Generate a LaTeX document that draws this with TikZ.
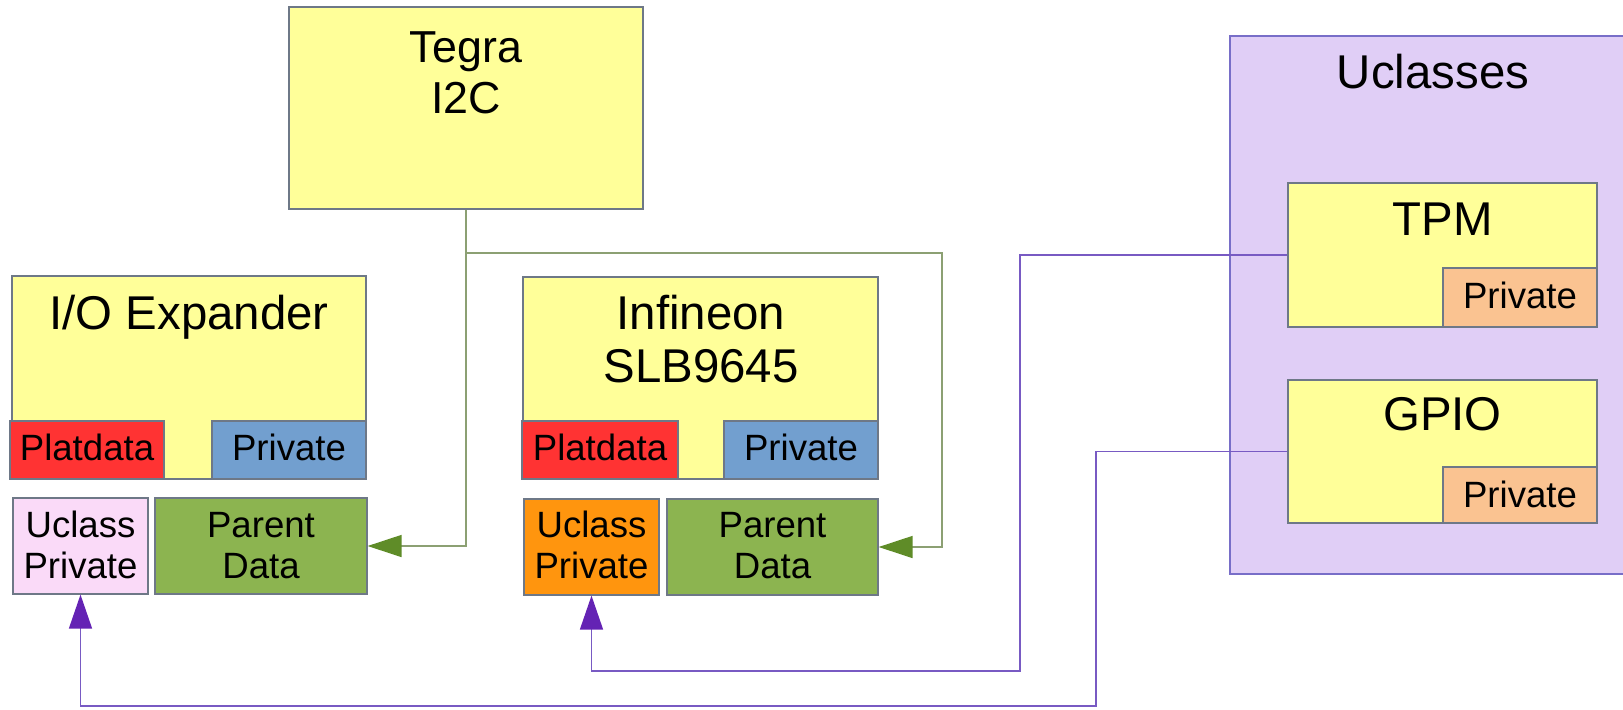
\documentclass[tikz,border=0pt]{standalone}
\usepackage{fontspec}
\setmainfont{Liberation Sans}
\usetikzlibrary{fit,arrows.meta}
\definecolor{yel}{RGB}{255,255,153}
\definecolor{bord}{RGB}{110,120,135}
\definecolor{pred}{RGB}{255,51,51}
\definecolor{pblue}{RGB}{114,159,207}
\definecolor{ppink}{RGB}{250,218,248}
\definecolor{pgreen}{RGB}{140,180,80}
\definecolor{porange}{RGB}{255,149,14}
\definecolor{plorange}{RGB}{250,195,145}
\definecolor{plav}{RGB}{224,206,246}
\definecolor{lavbord}{RGB}{120,110,200}
\definecolor{gconn}{RGB}{95,140,40}
\definecolor{glinec}{RGB}{140,160,115}
\definecolor{pconn}{RGB}{100,35,180}
\definecolor{plinec}{RGB}{120,90,195}
\begin{document}
\begin{tikzpicture}[x=0.5pt,y=-0.5pt,
  box/.style={draw=bord, line width=0.6pt, inner sep=0pt, fill=#1},
  big/.style={anchor=base, inner sep=0pt, font=\fontsize{23.7}{26}\selectfont},
  mid/.style={anchor=base, inner sep=0pt, font=\fontsize{22.4}{25}\selectfont},
  small/.style={anchor=base, inner sep=0pt, font=\fontsize{18.3}{20}\selectfont},
  gline/.style={draw=glinec, line width=0.7pt, -{Triangle[length=17pt,width=11pt,color=gconn]}},
  pline/.style={draw=plinec, line width=0.7pt, -{Triangle[length=17pt,width=11.5pt,color=pconn]}}]
\useasboundingbox (0,0) rectangle (1623,709);
\clip (0,0) rectangle (1623,709);
\fill[white] (0,0) rectangle (1623,709);

% Uclasses
\node[box=plav, draw=lavbord, fit={(1230,36)(1645,574)}] (ucl) {};
\node[box=yel, fit={(1288,183)(1597,327)}] (tpm) {};
\node[box=plorange, fit={(1443,268)(1597,327)}] (tpmpriv) {};
\node[box=yel, fit={(1288,380)(1597,523)}] (gpio) {};
\node[box=plorange, fit={(1443,467)(1597,523)}] (gpiopriv) {};

% Tegra
\node[box=yel, fit={(289,7)(643,209)}] (tegra) {};

% I/O Expander
\node[box=yel, fit={(12,276)(366,479)}] (io) {};
\node[box=pred, fit={(10,421)(164,479)}] (iopl) {};
\node[box=pblue, fit={(212,421)(366,479)}] (iopr) {};
\node[box=ppink, fit={(13,498)(148,594)}] (iouc) {};
\node[box=pgreen, fit={(155,498)(367,594)}] (iopd) {};

% Infineon
\node[box=yel, fit={(523,277)(878,479)}] (inf) {};
\node[box=pred, fit={(522,421)(678,479)}] (infpl) {};
\node[box=pblue, fit={(724,421)(878,479)}] (infpr) {};
\node[box=porange, fit={(524,499)(659,595)}] (infuc) {};
\node[box=pgreen, fit={(667,499)(878,595)}] (infpd) {};

% connectors
\coordinate (gj) at (467,253);
\coordinate (gr) at (942,253);
\draw[gline] (tegra.south) |- (iopd.east);
\draw[gline] (gj) -- (gr) |- (infpd.east);
\coordinate (tpmturn) at (1020,671);
\coordinate (gpioturn) at (1096,706);
\draw[pline] (tpm.west) -| (tpmturn) -| (infuc.south);
\draw[pline] (gpio.west) -| (gpioturn) -| (iouc.south);

% texts
\node[mid] (t1) at (466,62) {Tegra};
\node[mid] (t2) at (466,113) {I2C};
\node[big] (t3) at (189,329) {I/O Expander};
\node[small] (t4) at (87,460) {Platdata};
\node[small] (t5) at (289,460) {Private};
\node[small] (t6) at (80.5,537) {Uclass};
\node[small] (t7) at (80.5,578) {Private};
\node[small] (t8) at (261,537) {Parent};
\node[small] (t9) at (261,578) {Data};
\node[big] (t10) at (701,329) {Infineon};
\node[big] (t11) at (701,382) {SLB9645};
\node[small] (t12) at (600,460) {Platdata};
\node[small] (t13) at (801,460) {Private};
\node[small] (t14) at (591.5,537) {Uclass};
\node[small] (t15) at (591.5,578) {Private};
\node[small] (t16) at (772.5,537) {Parent};
\node[small] (t17) at (772.5,578) {Data};
\node[big] (t18) at (1433,88) {Uclasses};
\node[big] (t19) at (1442.5,235) {TPM};
\node[small] (t20) at (1520,308) {Private};
\node[big] (t21) at (1442.5,430) {GPIO};
\node[small] (t22) at (1520,507) {Private};
\end{tikzpicture}
\end{document}
